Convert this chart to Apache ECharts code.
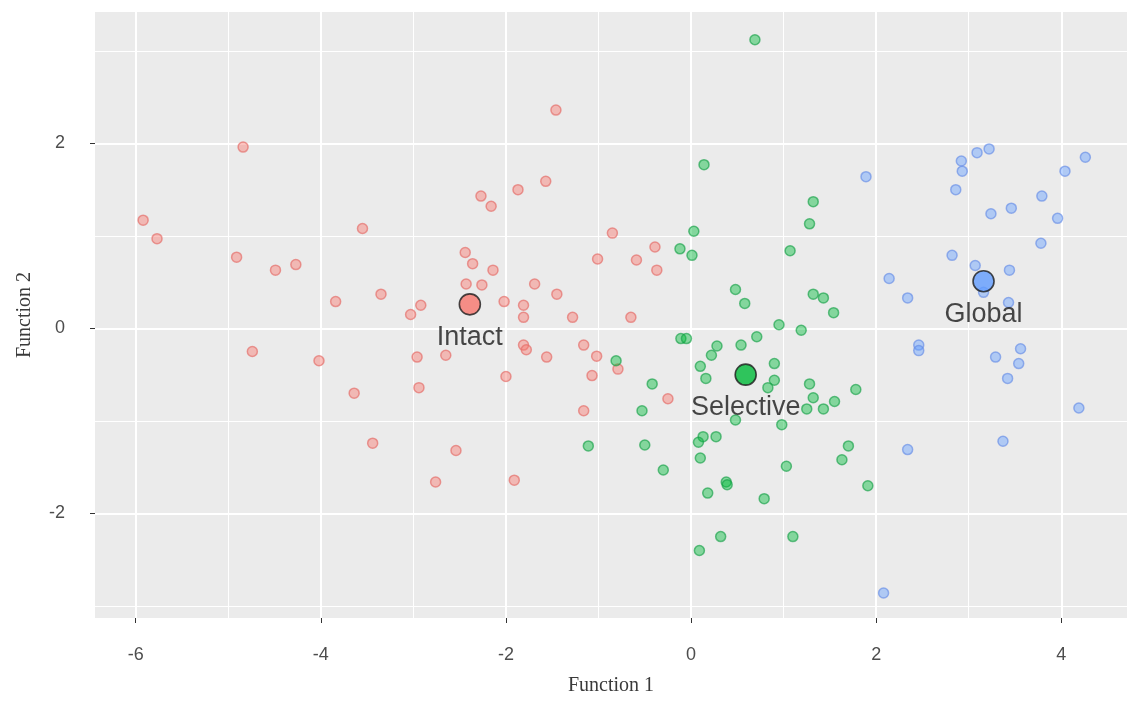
<!DOCTYPE html>
<html>
<head>
<meta charset="utf-8">
<script src="https://cdn.jsdelivr.net/npm/echarts@6/dist/echarts.min.js"></script>
<style>
html,body{margin:0;padding:0;background:#fff;}
#chart{width:1127px;height:709px;}
</style>
</head>
<body>
<div id="chart"></div>
<script>
// ---- data (Function 1, Function 2) ----
const intactPoints = [
  [-5.92,1.17],[-5.77,0.97],[-4.84,1.96],[-4.91,0.77],[-4.74,-0.25],[-4.49,0.63],[-4.27,0.69],
  [-4.02,-0.35],[-3.84,0.29],[-3.64,-0.70],[-3.55,1.08],[-3.35,0.37],[-3.44,-1.24],[-3.03,0.15],
  [-2.92,0.25],[-2.96,-0.31],[-2.94,-0.64],[-2.65,-0.29],[-2.76,-1.66],[-2.54,-1.32],[-2.44,0.82],
  [-2.36,0.70],[-2.43,0.48],[-2.26,0.47],[-2.27,1.43],[-2.16,1.32],[-2.14,0.63],[-2.02,0.29],
  [-2.00,-0.52],[-1.87,1.50],[-1.81,0.25],[-1.81,0.12],[-1.81,-0.18],[-1.78,-0.23],[-1.91,-1.64],
  [-1.69,0.48],[-1.57,1.59],[-1.56,-0.31],[-1.46,2.36],[-1.45,0.37],[-1.28,0.12],[-1.16,-0.18],
  [-1.02,-0.30],[-1.07,-0.51],[-1.16,-0.89],[-1.01,0.75],[-0.85,1.03],[-0.79,-0.44],[-0.65,0.12],
  [-0.59,0.74],[-0.37,0.63],[-0.39,0.88],[-0.25,-0.76]
];
const selectivePoints = [
  [0.69,3.12],[0.14,1.77],[1.32,1.37],[1.28,1.13],[0.03,1.05],[-0.12,0.86],[0.01,0.79],[1.07,0.84],
  [0.48,0.42],[0.58,0.27],[1.32,0.37],[1.43,0.33],[1.54,0.17],[0.95,0.04],[1.19,-0.02],[-0.11,-0.11],
  [-0.05,-0.11],[0.71,-0.09],[0.54,-0.18],[0.28,-0.19],[0.22,-0.29],[0.10,-0.41],[0.90,-0.38],
  [0.16,-0.54],[0.90,-0.56],[0.83,-0.64],[1.28,-0.60],[1.78,-0.66],[1.32,-0.75],[1.55,-0.79],
  [1.25,-0.87],[1.43,-0.87],[0.48,-0.99],[0.98,-1.04],[0.13,-1.17],[0.27,-1.17],[0.08,-1.23],
  [1.70,-1.27],[0.10,-1.40],[1.63,-1.42],[-0.30,-1.53],[1.03,-1.49],[0.38,-1.66],[0.39,-1.69],
  [1.91,-1.70],[0.18,-1.78],[0.79,-1.84],[0.32,-2.25],[1.10,-2.25],[0.09,-2.40],[-0.81,-0.35],
  [-0.42,-0.60],[-0.53,-0.89],[-0.50,-1.26],[-1.11,-1.27]
];
const globalPoints = [
  [1.89,1.64],[2.92,1.81],[2.93,1.70],[3.09,1.90],[3.22,1.94],[2.86,1.50],[4.26,1.85],[4.04,1.70],
  [3.79,1.43],[3.46,1.30],[3.24,1.24],[3.96,1.19],[3.78,0.92],[2.82,0.79],[3.07,0.68],[3.44,0.63],
  [2.14,0.54],[2.34,0.33],[3.43,0.28],[3.16,0.39],[2.46,-0.18],[2.46,-0.24],[3.29,-0.31],[3.56,-0.22],
  [3.54,-0.38],[3.42,-0.54],[4.19,-0.86],[3.37,-1.22],[2.34,-1.31],[2.08,-2.86]
];
const groupNames = ['Intact','Selective','Global'];
const centroids = [[-2.39,0.26],[0.59,-0.50],[3.16,0.51]];
const xTicks = [-6,-4,-2,0,2,4];
const yTicks = [-2,0,2];

// ---- styling ----
const colors = ['#F8766D','#00BA38','#619CFF'];
const fills = ['rgba(248,118,109,0.55)','rgba(0,186,56,0.55)','rgba(97,156,255,0.55)'];
const rings = ['rgba(228,110,105,0.85)','rgba(20,160,70,0.80)','rgba(100,140,230,0.80)'];
const pointSets = [intactPoints, selectivePoints, globalPoints];

const chart = echarts.init(document.getElementById('chart'), null, {renderer:'canvas'});

const series = [];
pointSets.forEach((pts, i) => {
  series.push({
    type:'scatter', name:groupNames[i], data:pts, symbol:'circle', symbolSize:10,
    itemStyle:{color:fills[i], borderColor:rings[i], borderWidth:1.5},
    z:2, silent:true
  });
});
series.push({
  type:'scatter', name:'centroids',
  data: centroids.map((c,i)=>({value:c, name:groupNames[i],
        itemStyle:{color:colors[i], borderColor:'#1a1a1a', borderWidth:1.6}})),
  symbol:'circle', symbolSize:21, z:5, silent:true,
  label:{show:true, position:'inside', offset:[0,33], formatter:p=>p.name,
         fontFamily:'Liberation Sans, Arial, sans-serif', fontSize:27, color:'#1a1a1a'}
});

const tickLabelStyle = {color:'#4D4D4D', fontFamily:'Liberation Sans, Arial, sans-serif', fontSize:18};
const fmt = v => (Math.abs(v - Math.round(v)) < 1e-9 ? String(Math.round(v)) : '');

chart.setOption({
  animation:false,
  backgroundColor:'#ffffff',
  grid:{left:95, right:0, top:12, bottom:91, show:true, backgroundColor:'#EBEBEB', borderWidth:0, containLabel:false},
  xAxis:{
    type:'value', min:-6.44, max:4.71, minInterval:2, maxInterval:2,
    name:'Function 1', nameLocation:'middle', nameGap:58,
    nameTextStyle:{fontFamily:'Liberation Serif, Times New Roman, serif', fontSize:20, color:'#3a3a3a'},
    axisLine:{show:false, onZero:false},
    axisTick:{show:true, length:5, customValues:xTicks, lineStyle:{color:'#333333', width:1}},
    axisLabel:Object.assign({margin:28, customValues:xTicks, formatter:fmt}, tickLabelStyle),
    splitLine:{show:true, lineStyle:{color:'#ffffff', width:2}},
    minorTick:{show:false, splitNumber:2},
    minorSplitLine:{show:true, lineStyle:{color:'#ffffff', width:1}}
  },
  yAxis:{
    type:'value', min:-3.13, max:3.42, minInterval:2, maxInterval:2,
    name:'Function 2', nameLocation:'middle', nameGap:60, nameRotate:90,
    nameTextStyle:{fontFamily:'Liberation Serif, Times New Roman, serif', fontSize:20, color:'#3a3a3a'},
    axisLine:{show:false, onZero:false},
    axisTick:{show:true, length:5, customValues:yTicks, lineStyle:{color:'#333333', width:1}},
    axisLabel:Object.assign({margin:30, customValues:yTicks, formatter:fmt}, tickLabelStyle),
    splitLine:{show:true, lineStyle:{color:'#ffffff', width:2}},
    minorTick:{show:false, splitNumber:2},
    minorSplitLine:{show:true, lineStyle:{color:'#ffffff', width:1}}
  },
  series:series
});
</script>
</body>
</html>
